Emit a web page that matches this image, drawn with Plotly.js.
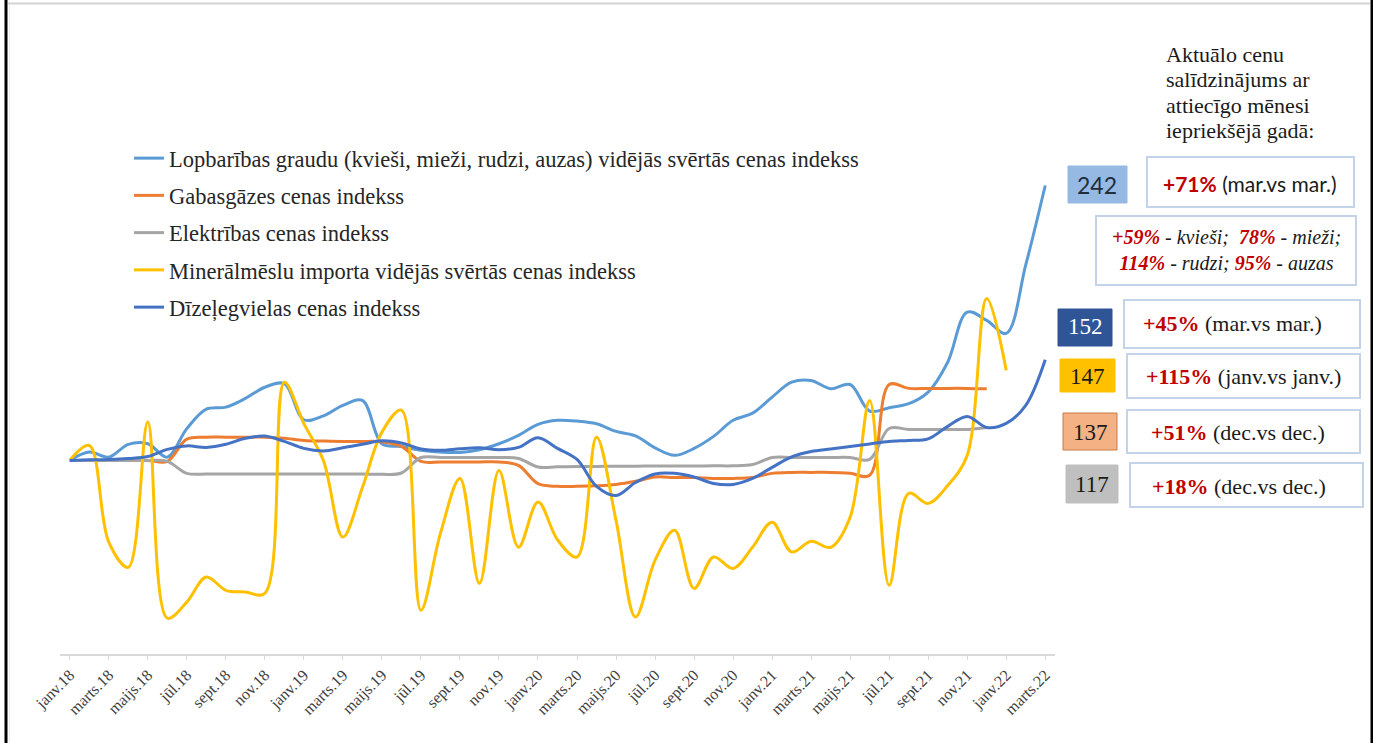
<!DOCTYPE html>
<html>
<head>
<meta charset="utf-8">
<script src="https://cdn.plot.ly/plotly-3.0.1.min.js"></script>
<style>
html,body{margin:0;padding:0;background:#fff;}
#chart{width:1373px;height:743px;}
</style>
</head>
<body>
<div id="chart"></div>
<script>
// ---- data ----
const months = [
  "janv.18","febr.18","marts.18","apr.18","maijs.18","jūn.18","jūl.18","aug.18","sept.18","okt.18","nov.18","dec.18",
  "janv.19","febr.19","marts.19","apr.19","maijs.19","jūn.19","jūl.19","aug.19","sept.19","okt.19","nov.19","dec.19",
  "janv.20","febr.20","marts.20","apr.20","maijs.20","jūn.20","jūl.20","aug.20","sept.20","okt.20","nov.20","dec.20",
  "janv.21","febr.21","marts.21","apr.21","maijs.21","jūn.21","jūl.21","aug.21","sept.21","okt.21","nov.21","dec.21",
  "janv.22","febr.22","marts.22"
];
const tickLabels = [
  "janv.18","marts.18","maijs.18","jūl.18","sept.18","nov.18",
  "janv.19","marts.19","maijs.19","jūl.19","sept.19","nov.19",
  "janv.20","marts.20","maijs.20","jūl.20","sept.20","nov.20",
  "janv.21","marts.21","maijs.21","jūl.21","sept.21","nov.21",
  "janv.22","marts.22"
];
const seriesNames = [
  "Lopbarības graudu (kvieši, mieži, rudzi, auzas) vidējās svērtās cenas indekss",
  "Gabasgāzes cenas indekss",
  "Elektrības cenas indekss",
  "Minerālmēslu importa vidējās svērtās cenas indekss",
  "Dīzeļegvielas cenas indekss"
];
const grain = [100,104.3,101.7,108.3,108.6,101.7,116.4,126.5,127.5,132,
  137.8,139.6,121,123,128.4,131,108.6,107.2,105.2,104.3,
  104.1,105.5,108.6,112.9,118.6,120.7,120.3,118.9,115,112.7,
  106.5,102.6,106.2,112.4,120.7,124.4,132.7,140.4,141.3,137,
  139.2,125.5,127.2,129.3,135.3,150.7,176.6,172.3,165.6,201,242];
const gas = [100,100,100,100,100,99.5,111,112,112,112,
  112,111.4,110.3,110,109.8,109.8,109.6,107.2,99.5,99.2,
  99.2,99.2,99.2,97.4,88,86.6,86.6,86.9,87.6,89.2,
  91.4,91.2,91.2,90.7,90.7,91.2,93.3,93.8,93.8,93.8,
  93.3,92.3,139.2,137.2,137.2,137.2,137.2,137];
const electricity = [100,100,100,100,100,99.5,93.3,93,93,93,
  93,93,93,93,93,93,92.8,93.5,101.5,101.5,
  101.5,101.5,101.5,101,96.6,96.7,96.8,96.9,97,97,
  97.1,97.1,97.1,97.2,97.2,97.9,101.5,101.5,101.5,101.5,
  101.5,100.5,116.5,116,116,116,116,117];
const fertilizer = [100,107.7,57.8,44.8,119.8,18.5,26.8,39.8,32.9,32,
  31.3,140.4,119,100,60.4,86,114.6,126,22.6,62.3,
  90.7,36.5,94.8,55.2,78.5,59,50.1,112,69,19.1,
  48.4,63.9,33.9,50.1,44.2,55.2,68.1,52.7,58.2,55.1,
  70.7,131,35.5,83,77.8,87,102.6,183.6,146.5];
const diesel = [100,100.3,100.5,101,102,105.7,107.5,106.7,108.3,111.4,
  112.6,109.8,106.2,104.9,106.5,108.3,110.1,109,105.9,105.2,
  106,106.5,105.5,106.7,111.7,106.2,100.5,86.6,81.9,88.6,
  93,93.3,91.4,88.1,87.6,90.7,96.4,101.8,104.6,105.9,
  107.2,108.5,109.8,110.3,111.1,117.6,122.7,117,119.1,128.4,152];
const seriesData = [grain, gas, electricity, fertilizer, diesel];
const seriesColors = ["#5B9BD5","#ED7D31","#A5A5A5","#FFC000","#4472C4"];

// right-panel figures
const boxValues = ["242","152","147","137","117"];
const changePct = ["+71%","+45%","+115%","+51%","+18%"];
const changeText = ["(mar.vs mar.)","(mar.vs mar.)","(janv.vs janv.)","(dec.vs dec.)","(dec.vs dec.)"];
const grainPct = ["+59%","78%","114%","95%"];
const grainNames = ["kvieši","mieži","rudzi","auzas"];
const panelTitleLines = ["Aktuālo cenu","salīdzinājums ar","attiecīgo mēnesi","iepriekšējā gadā:"];

// ---- helpers ----
const W = 1373, H = 743;
const px = x => x / W;
const py = y => 1 - y / H;
const RED = "#C00000";
const SERIF = "Liberation Serif, Times New Roman, serif";
const SANS = "Lato, Carlito, Calibri, sans-serif";

const traces = seriesData.map((d, i) => ({
  type: "scatter",
  mode: "lines",
  x: months.slice(0, d.length),
  y: d,
  name: seriesNames[i],
  legendgroup: "g" + i,
  line: {color: seriesColors[i], width: 3, shape: "spline", smoothing: 1},
  hoverinfo: "x+y+name"
}));

const red = t => '<b><span style="color:' + RED + '">' + t + '</span></b>';

// layout geometry (page pixels)
const valBoxes = [[1068,166,1127,203],[1058,309,1112,346],[1060,359,1115,392],[1063,413,1117,450],[1066,465,1118,503]];
const valCenters = [[1097,185],[1085,327],[1087,376],[1090,432],[1092,485]];
const valFills = ["#95B9E3","#2F5597","#FFC000","#F4B183","#BFBFBF"];
const valBorders = ["#95B9E3","#2F5597","#FFC000","#C97A45","#BFBFBF"];
const valFontColors = ["#1F2D3D","#FFFFFF","#1A1A1A","#1A1A1A","#1A1A1A"];
const valFonts = [SANS, SERIF, SERIF, SERIF, SERIF];
const valSizes = [23, 23, 23, 23, 23];
const chgBoxes = [[1147,157,1354,207],[1124,300,1360,348],[1127,354,1360,398],[1127,410,1360,453],[1130,463,1363,507]];
const chgCenters = [[1250,183],[1232,323],[1243,377],[1238,432],[1239,486]];
const chgFonts = [SANS, SERIF, SERIF, SERIF, SERIF];
const chgSizes = [21, 22, 22, 22, 22];
const titleY = [54, 79, 105, 131];

const shapes = [
  {type: "line", xref: "paper", yref: "paper", x0: px(6), x1: px(6), y0: 0, y1: 1, line: {color: "#000", width: 3}},
  {type: "line", xref: "paper", yref: "paper", x0: px(1372), x1: px(1372), y0: 0, y1: 1, line: {color: "#000", width: 3}},
  {type: "line", xref: "paper", yref: "paper", x0: px(8), x1: px(1370), y0: py(3.5), y1: py(3.5), line: {color: "#D4D4D4", width: 2}},
  {type: "line", xref: "paper", yref: "paper", x0: px(9.5), x1: px(9.5), y0: 0, y1: py(4), line: {color: "#EFEFEF", width: 1}}
];
const rect = (b, fill, lc, lw) => ({type: "rect", xref: "paper", yref: "paper",
  x0: px(b[0]), x1: px(b[2]), y0: py(b[3]), y1: py(b[1]), fillcolor: fill, line: {color: lc, width: lw}, layer: "above"});
valBoxes.forEach((b, i) => shapes.push(rect(b, valFills[i], valBorders[i], 1)));
chgBoxes.forEach(b => shapes.push(rect(b, "#FFFFFF", "#C3D3EA", 2)));
shapes.push(rect([1096,216,1356,285], "#FFFFFF", "#C3D3EA", 2));

const annotations = [];
panelTitleLines.forEach((t, i) => annotations.push({
  xref: "paper", yref: "paper", x: px(1164), y: py(titleY[i]), xanchor: "left", yanchor: "middle",
  text: t, showarrow: false, font: {family: SERIF, size: 22, color: "#1A1A1A"}
}));
boxValues.forEach((t, i) => annotations.push({
  xref: "paper", yref: "paper", x: px(valCenters[i][0]), y: py(valCenters[i][1]), xanchor: "center", yanchor: "middle",
  text: t, showarrow: false, font: {family: valFonts[i], size: valSizes[i], color: valFontColors[i]}
}));
changePct.forEach((t, i) => annotations.push({
  xref: "paper", yref: "paper", x: px(chgCenters[i][0]), y: py(chgCenters[i][1]), xanchor: "center", yanchor: "middle",
  text: red(t) + " " + changeText[i], showarrow: false,
  font: {family: chgFonts[i], size: chgSizes[i], color: "#1A1A1A"}
}));
const grainText = '<i>' + red(grainPct[0]) + ' - ' + grainNames[0] + ';  ' + red(grainPct[1]) + ' - ' + grainNames[1] + ';<br>' +
  red(grainPct[2]) + ' - ' + grainNames[2] + '; ' + red(grainPct[3]) + ' - ' + grainNames[3] + '</i>';
annotations.push({
  xref: "paper", yref: "paper", x: px(1226), y: py(250), xanchor: "center", yanchor: "middle",
  text: grainText, showarrow: false, align: "center",
  font: {family: SERIF, size: 20, color: "#1A1A1A"}
});

const layout = {
  width: W, height: H,
  margin: {l: 0, r: 0, t: 0, b: 0},
  paper_bgcolor: "#FFFFFF", plot_bgcolor: "rgba(0,0,0,0)",
  showlegend: true,
  legend: {
    x: px(129), y: py(137), xanchor: "left", yanchor: "top",
    font: {family: SERIF, size: 22.5, color: "#262626"},
    tracegroupgap: 5, bgcolor: "rgba(0,0,0,0)", itemwidth: 30
  },
  xaxis: {
    type: "category", categoryorder: "array", categoryarray: months,
    domain: [px(60), px(1055)], range: [-0.5, 50.5],
    tickmode: "array", tickvals: tickLabels, ticktext: tickLabels,
    tickangle: -45, ticks: "outside", ticklen: 4, tickcolor: "#D9D9D9",
    tickfont: {family: SERIF, size: 16, color: "#404040"},
    showline: true, linecolor: "#D9D9D9", linewidth: 1.5,
    showgrid: false, zeroline: false, fixedrange: true
  },
  yaxis: {
    domain: [py(654), py(170)], range: [0, 250],
    visible: false, showgrid: false, zeroline: false, fixedrange: true
  },
  annotations: annotations,
  shapes: shapes
};

Plotly.newPlot("chart", traces, layout, {displayModeBar: false, staticPlot: true});
</script>
</body>
</html>
